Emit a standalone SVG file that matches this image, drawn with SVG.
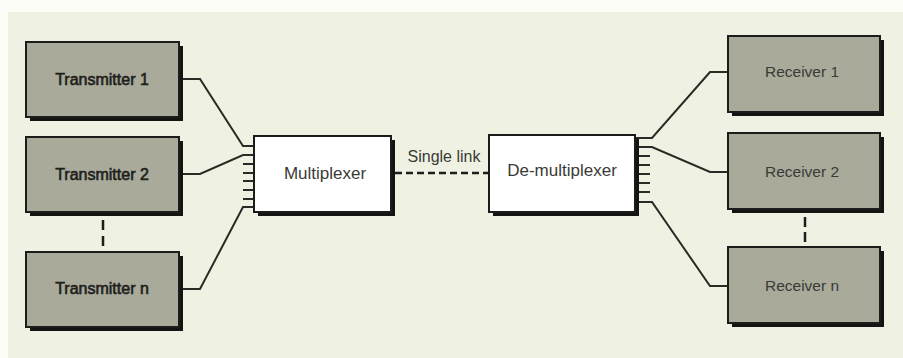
<svg xmlns="http://www.w3.org/2000/svg" width="903" height="358" viewBox="0 0 903 358">
<style>
.box{stroke:#1c1c1a;stroke-width:2}
.tx{fill:#a9aa9a}
.mx{fill:#ffffff}
.sh{fill:#141412}
.ln{fill:none;stroke:#2a2a26;stroke-width:2;stroke-linejoin:miter}
.dash{fill:none;stroke:#1e1e1c;stroke-width:2.5}
.lbl{font-family:"Liberation Sans",Arial,sans-serif;text-anchor:middle}
.t{font-size:16px;fill:#1e1e1c;stroke:#1e1e1c;stroke-width:0.6}
.r{font-size:15.5px;fill:#3a3a36}
.m{font-size:17px;fill:#3a3a36}
</style>
<rect x="0" y="0" width="903" height="358" fill="#fdfdf8"/>
<rect x="8" y="12" width="895" height="346" fill="#eff1e2"/>

<g id="connectors">
  <polyline class="ln" points="180,79 200,79 243,146 254,146"/>
  <polyline class="ln" points="180,174 200,174 243,155 254,155"/>
  <polyline class="ln" points="180,289 200,289 243,207 254,207"/>
  <line class="ln" x1="243" y1="164" x2="254" y2="164"/>
  <line class="ln" x1="243" y1="173" x2="254" y2="173"/>
  <line class="ln" x1="243" y1="181" x2="254" y2="181"/>
  <line class="ln" x1="243" y1="190" x2="254" y2="190"/>
  <line class="ln" x1="243" y1="199" x2="254" y2="199"/>

  <polyline class="ln" points="728,72 710,72 652,138 635,138"/>
  <polyline class="ln" points="728,172 710,172 652,147 635,147"/>
  <polyline class="ln" points="728,286 710,286 652,202 635,202"/>
  <line class="ln" x1="635" y1="156" x2="650" y2="156"/>
  <line class="ln" x1="635" y1="165" x2="650" y2="165"/>
  <line class="ln" x1="635" y1="174" x2="650" y2="174"/>
  <line class="ln" x1="635" y1="183" x2="650" y2="183"/>
  <line class="ln" x1="635" y1="192" x2="650" y2="192"/>

  <line class="dash" x1="395" y1="173" x2="489" y2="173" stroke-dasharray="7,4"/>
  <line class="dash" x1="103" y1="220" x2="103" y2="247" stroke-dasharray="10,6"/>
  <line class="dash" x1="805" y1="217" x2="805" y2="243" stroke-dasharray="10,5"/>
  <text class="lbl m" x="444" y="162" style="font-size:16px">Single link</text>
</g>

<g id="transmitter1">
  <rect class="sh" x="30" y="46" width="153" height="75"/>
  <rect class="box tx" x="26" y="42" width="153" height="75"/>
  <text class="lbl t" x="102" y="85">Transmitter 1</text>
</g>
<g id="transmitter2">
  <rect class="sh" x="30" y="141" width="153" height="75"/>
  <rect class="box tx" x="26" y="137" width="153" height="75"/>
  <text class="lbl t" x="102" y="180">Transmitter 2</text>
</g>
<g id="transmittern">
  <rect class="sh" x="30" y="256" width="153" height="75"/>
  <rect class="box tx" x="26" y="252" width="153" height="75"/>
  <text class="lbl t" x="102" y="294">Transmitter n</text>
</g>

<g id="multiplexer">
  <rect class="sh" x="258" y="140" width="137" height="76"/>
  <rect class="box mx" x="254" y="136" width="137" height="76"/>
  <text class="lbl m" x="325" y="179">Multiplexer</text>
</g>
<g id="demultiplexer">
  <rect class="sh" x="493" y="139" width="146" height="77"/>
  <rect class="box mx" x="489" y="135" width="146" height="77"/>
  <text class="lbl m" x="562" y="176">De-multiplexer</text>
</g>

<g id="receiver1">
  <rect class="sh" x="732" y="40" width="152" height="76"/>
  <rect class="box tx" x="728" y="36" width="152" height="76"/>
  <text class="lbl r" x="802" y="77">Receiver 1</text>
</g>
<g id="receiver2">
  <rect class="sh" x="732" y="137" width="152" height="76"/>
  <rect class="box tx" x="728" y="133" width="152" height="76"/>
  <text class="lbl r" x="802" y="177">Receiver 2</text>
</g>
<g id="receivern">
  <rect class="sh" x="732" y="251" width="152" height="76"/>
  <rect class="box tx" x="728" y="247" width="152" height="76"/>
  <text class="lbl r" x="802" y="291">Receiver n</text>
</g>
</svg>
